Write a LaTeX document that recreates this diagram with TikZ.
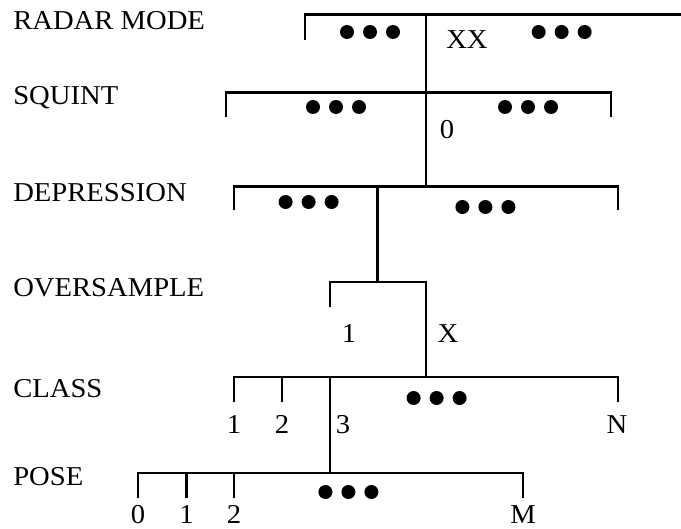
\documentclass[tikz,border=0pt]{standalone}
\usepackage{fontspec}
\setmainfont[FakeStretch=1.05]{Liberation Serif}
\usepackage{tikz}
\tikzstyle{level label}=[anchor=base west, inner sep=0pt, font=\fontsize{19.4}{22}\selectfont]
\tikzstyle{value}=[anchor=base, inner sep=0pt, font=\fontsize{19.4}{22}\selectfont]
\tikzstyle{tree edge}=[-, draw=black, line width=2.05pt]
\tikzstyle{dot}=[fill=black]
\pgfdeclarelayer{nodelayer}
\pgfdeclarelayer{edgelayer}
\pgfsetlayers{edgelayer,nodelayer,main}

\begin{document}
\begin{tikzpicture}[x=0.5cm, y=-0.5cm]
	\useasboundingbox (0,0) rectangle (34.05,26.45);
	\begin{pgfonlayer}{nodelayer}
		% level names
		\node [style=level label] (0) at (0.65, 1.5) {RADAR MODE};
		\node [style=level label] (1) at (0.65, 5.25) {SQUINT};
		\node [style=level label] (2) at (0.65, 10.1) {DEPRESSION};
		\node [style=level label] (3) at (0.65, 14.8) {OVERSAMPLE};
		\node [style=level label] (4) at (0.65, 19.85) {CLASS};
		\node [style=level label] (5) at (0.65, 24.25) {POSE};
		% branch values
		\node [style=value] (6) at (23.35, 2.42) {XX};
		\node [style=value] (7) at (22.35, 6.92) {0};
		\node [style=value] (8) at (17.45, 17.1) {1};
		\node [style=value] (9) at (22.4, 17.1) {X};
		\node [style=value] (10) at (11.7, 21.65) {1};
		\node [style=value] (11) at (14.1, 21.65) {2};
		\node [style=value] (12) at (17.15, 21.65) {3};
		\node [style=value] (13) at (30.85, 21.65) {N};
		\node [style=value] (14) at (6.9, 26.15) {0};
		\node [style=value] (15) at (9.33, 26.15) {1};
		\node [style=value] (16) at (11.7, 26.15) {2};
		\node [style=value] (17) at (26.15, 26.15) {M};
	\end{pgfonlayer}
	% tree points
	\coordinate (20) at (15.25, 2.0);
	\coordinate (21) at (15.25, 0.72);
	\coordinate (22) at (21.3, 0.72);
	\coordinate (23) at (34.05, 0.72);
	\coordinate (24) at (11.3, 5.85);
	\coordinate (25) at (11.3, 4.62);
	\coordinate (26) at (21.3, 4.62);
	\coordinate (27) at (30.55, 4.62);
	\coordinate (28) at (30.55, 5.85);
	\coordinate (29) at (11.7, 10.5);
	\coordinate (30) at (11.7, 9.33);
	\coordinate (31) at (18.88, 9.33);
	\coordinate (32) at (21.3, 9.33);
	\coordinate (33) at (30.9, 9.33);
	\coordinate (34) at (30.9, 10.5);
	\coordinate (35) at (16.5, 15.35);
	\coordinate (36) at (16.5, 14.1);
	\coordinate (37) at (18.88, 14.1);
	\coordinate (38) at (21.3, 14.1);
	\coordinate (39) at (11.7, 20.1);
	\coordinate (40) at (11.7, 18.85);
	\coordinate (41) at (14.1, 18.85);
	\coordinate (42) at (14.1, 20.1);
	\coordinate (43) at (16.5, 18.85);
	\coordinate (44) at (21.3, 18.85);
	\coordinate (45) at (30.9, 18.85);
	\coordinate (46) at (30.9, 20.1);
	\coordinate (47) at (6.9, 24.9);
	\coordinate (48) at (6.9, 23.65);
	\coordinate (49) at (9.33, 23.65);
	\coordinate (50) at (9.33, 24.9);
	\coordinate (51) at (11.7, 23.65);
	\coordinate (52) at (11.7, 24.9);
	\coordinate (53) at (16.5, 23.65);
	\coordinate (54) at (26.15, 23.65);
	\coordinate (55) at (26.15, 24.9);
	\begin{pgfonlayer}{edgelayer}
		\draw [style=tree edge] (20) -- (21) -- (23);
		\draw [style=tree edge] (22) -- (26);
		\draw [style=tree edge] (24) -- (25) -- (27) -- (28);
		\draw [style=tree edge] (26) -- (32);
		\draw [style=tree edge] (29) -- (30) -- (33) -- (34);
		\draw [style=tree edge] (31) -- (37);
		\draw [style=tree edge] (35) -- (36) -- (38) -- (44);
		\draw [style=tree edge] (39) -- (40) -- (45) -- (46);
		\draw [style=tree edge] (41) -- (42);
		\draw [style=tree edge] (43) -- (53);
		\draw [style=tree edge] (47) -- (48) -- (54) -- (55);
		\draw [style=tree edge] (49) -- (50);
		\draw [style=tree edge] (51) -- (52);
		% ellipsis dots
		\foreach \x/\y in {18.5/1.6, 28.08/1.6, 16.8/5.35, 26.4/5.35, 15.43/10.1, 24.27/10.35, 21.83/19.9, 17.42/24.6}
			\foreach \d in {-1.15, 0, 1.15}
				\fill [style=dot] (\x+\d, \y) circle (0.35);
	\end{pgfonlayer}
\end{tikzpicture}
\end{document}
